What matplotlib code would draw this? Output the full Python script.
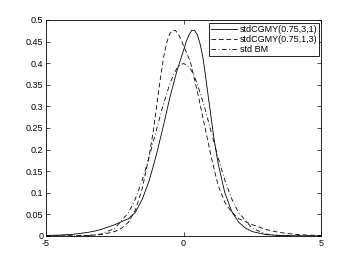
import matplotlib
matplotlib.use("Agg")
import matplotlib.pyplot as plt

plt.rcParams['font.family'] = ['Liberation Sans', 'DejaVu Sans']

# densities
x_solid = [-5, -4.5, -4, -3.5, -3.25, -3, -2.5, -2, -1.75, -1.5, -1.25, -1, -0.75, -0.5,
           -0.25, 0, 0.1, 0.2, 0.3, 0.4, 0.5, 0.6, 0.7, 0.8, 0.9, 1.0, 1.1, 1.25, 1.5,
           1.75, 2.0, 2.25, 2.5, 3.0, 3.5, 4, 5]
y_solid = [0.001, 0.002, 0.004, 0.008, 0.011, 0.015, 0.026, 0.040, 0.055, 0.085, 0.128,
           0.185, 0.25, 0.32, 0.38, 0.43, 0.450, 0.466, 0.476, 0.476, 0.466, 0.445, 0.415,
           0.37, 0.322, 0.275, 0.228, 0.17, 0.10, 0.057, 0.032, 0.018, 0.010, 0.003,
           0.001, 0.0003, 0.0]

x_dash = [-5, -4, -3.5, -3, -2.5, -2.25, -2, -1.75, -1.5, -1.25, -1.1, -1.0, -0.9, -0.8,
          -0.7, -0.6, -0.5, -0.4, -0.3, -0.2, -0.1, 0, 0.25, 0.5, 0.75, 1, 1.25, 1.5,
          1.75, 2, 2.5, 3, 3.25, 3.5, 4, 4.5, 5]
y_dash = [0.0, 0.0003, 0.001, 0.003, 0.010, 0.018, 0.032, 0.060, 0.11, 0.185, 0.243, 0.29,
          0.338, 0.383, 0.422, 0.450, 0.468, 0.476, 0.476, 0.468, 0.456, 0.44, 0.403,
          0.335, 0.26, 0.185, 0.118, 0.078, 0.055, 0.040, 0.026, 0.015, 0.011, 0.008,
          0.004, 0.002, 0.001]

x_bm = [-5, -4, -3.5, -3, -2.5, -2, -1.75, -1.5, -1.25, -1, -0.75, -0.5, -0.375, -0.25,
        -0.125, 0, 0.125, 0.25, 0.375, 0.5, 0.75, 1, 1.25, 1.5, 1.75, 2, 2.5, 3, 3.5, 4, 5]
y_bm = [0.0, 0.0001, 0.0009, 0.0044, 0.0175, 0.054, 0.086, 0.1295, 0.1826, 0.242, 0.301,
        0.352, 0.372, 0.387, 0.396, 0.399, 0.396, 0.387, 0.372, 0.352, 0.301, 0.242,
        0.1826, 0.1295, 0.086, 0.054, 0.0175, 0.0044, 0.0009, 0.0001, 0.0]

labels = ['stdCGMY(0.75,3,1)', 'stdCGMY(0.75,1,3)', 'std BM']
xticks = [-5, 0, 5]
xticklabels = ['-5', '0', '5']
yticks = [0, 0.05, 0.1, 0.15, 0.2, 0.25, 0.3, 0.35, 0.4, 0.45, 0.5]
yticklabels = ['0', '0.05', '0.1', '0.15', '0.2', '0.25', '0.3', '0.35', '0.4', '0.45', '0.5']

fig = plt.figure(figsize=(3.54, 2.66), dpi=100)
ax = fig.add_axes([0.130, 0.113, 0.777, 0.812])

lw = 0.6
ax.plot(x_solid, y_solid, color='k', lw=lw, ls='-', label=labels[0])
ax.plot(x_dash, y_dash, color='k', lw=lw, ls=(0, (5.5, 3.5)), label=labels[1])
ax.plot(x_bm, y_bm, color='k', lw=lw, ls=(0, (5.5, 3, 1, 3)), label=labels[2])

ax.set_xlim(-5, 5)
ax.set_ylim(0, 0.5)
ax.set_xticks(xticks)
ax.set_xticklabels(xticklabels)
ax.set_yticks(yticks)
ax.set_yticklabels(yticklabels)
ax.tick_params(direction='in', length=3, width=0.5, labelsize=6.5, top=True, right=True, pad=2)
for s in ax.spines.values():
    s.set_linewidth(0.6)

leg = ax.legend(loc='upper right', bbox_to_anchor=(0.993, 0.985), fontsize=6.5,
                frameon=True, fancybox=False, edgecolor='k', framealpha=1,
                borderpad=0.2, labelspacing=0.1, handlelength=2.9, handletextpad=0.25,
                borderaxespad=0)
leg.get_frame().set_linewidth(0.6)

fig.savefig('out.png', dpi=100)
